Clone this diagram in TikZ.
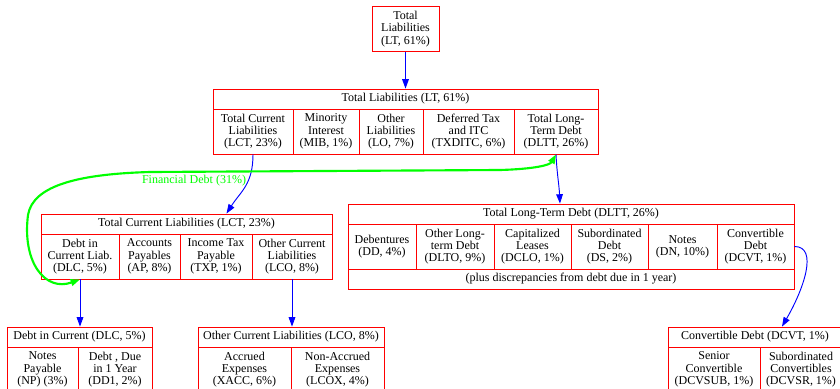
\documentclass[tikz,border=0pt]{standalone}
\usepackage{fontspec}
\setmainfont{Liberation Serif}
\usetikzlibrary{arrows.meta}
\tikzset{
  rec/.style={draw=red, line width=0.65pt, inner sep=0pt, align=center,
    font=\fontsize{9}{9.2}\selectfont},
  tipx/.tip={Triangle[length=7pt,width=5pt]},
  edge/.style={draw=blue, line width=0.7pt, -tipx},
  fin/.style={draw=green, line width=1.6pt, tipx-tipx},
  lbl/.style={text=green, inner sep=0pt, font=\fontsize{9}{9.2}\selectfont}
}
\begin{document}
\begin{tikzpicture}[x=0.75pt,y=-0.75pt]
\useasboundingbox (0,0) rectangle (840,389);
\fill[white] (0,0) rectangle (840,389);
\clip (0,0) rectangle (840,389);
% top node
\node[rec, minimum width=67*0.75pt, minimum height=45*0.75pt] (lt0) at (405.5,29) {Total\\Liabilities\\(LT, 61\%)};
% LT record
\node[rec, minimum width=385*0.75pt, minimum height=20*0.75pt] (lth) at (405.5,99) {Total Liabilities (LT, 61\%)};
\node[rec, minimum width=80*0.75pt, minimum height=45*0.75pt] (lct) at (253,131.5) {Total Current\\Liabilities\\(LCT, 23\%)};
\node[rec, minimum width=66*0.75pt, minimum height=45*0.75pt] (mib) at (326,131.5) {Minority\\Interest\\(MIB, 1\%)};
\node[rec, minimum width=64*0.75pt, minimum height=45*0.75pt] (lo) at (391,131.5) {Other\\Liabilities\\(LO, 7\%)};
\node[rec, minimum width=91*0.75pt, minimum height=45*0.75pt] (txditc) at (468.5,131.5) {Deferred Tax\\and ITC\\(TXDITC, 6\%)};
\node[rec, minimum width=84*0.75pt, minimum height=45*0.75pt] (dltt) at (556,131.5) {Total Long-\\Term Debt\\(DLTT, 26\%)};
% LCT record
\node[rec, minimum width=291*0.75pt, minimum height=20*0.75pt] (lcth) at (186.5,224) {Total Current Liabilities (LCT, 23\%)};
\node[rec, minimum width=78*0.75pt, minimum height=45*0.75pt] (dlc) at (80,256.5) {Debt in\\Current Liab.\\(DLC, 5\%)};
\node[rec, minimum width=61*0.75pt, minimum height=45*0.75pt] (ap) at (149.5,256.5) {Accounts\\Payables\\(AP, 8\%)};
\node[rec, minimum width=72*0.75pt, minimum height=45*0.75pt] (txp) at (216,256.5) {Income Tax\\Payable\\(TXP, 1\%)};
\node[rec, minimum width=80*0.75pt, minimum height=45*0.75pt] (lco) at (292,256.5) {Other Current\\Liabilities\\(LCO, 8\%)};
% DLTT record
\node[rec, minimum width=446*0.75pt, minimum height=20*0.75pt] (dltth) at (571,214) {Total Long-Term Debt (DLTT, 26\%)};
\node[rec, minimum width=68*0.75pt, minimum height=45*0.75pt] (dd) at (382,246.5) {Debentures\\(DD, 4\%)};
\node[rec, minimum width=78*0.75pt, minimum height=45*0.75pt] (dlto) at (455,246.5) {Other Long-\\term Debt\\(DLTO, 9\%)};
\node[rec, minimum width=77*0.75pt, minimum height=45*0.75pt] (dclo) at (532.5,246.5) {Capitalized\\Leases\\(DCLO, 1\%)};
\node[rec, minimum width=77*0.75pt, minimum height=45*0.75pt] (ds) at (609.5,246.5) {Subordinated\\Debt\\(DS, 2\%)};
\node[rec, minimum width=69*0.75pt, minimum height=45*0.75pt] (dn) at (682.5,246.5) {Notes\\(DN, 10\%)};
\node[rec, minimum width=77*0.75pt, minimum height=45*0.75pt] (dcvt) at (755.5,246.5) {Convertible\\Debt\\(DCVT, 1\%)};
\node[rec, minimum width=446*0.75pt, minimum height=20*0.75pt] (dlttf) at (571,279) {(plus discrepancies from debt due in 1 year)};
% DLC record
\node[rec, minimum width=145*0.75pt, minimum height=20*0.75pt] (dlch) at (79.5,337) {Debt in Current (DLC, 5\%)};
\node[rec, minimum width=71*0.75pt, minimum height=45*0.75pt] (np) at (42.5,369.5) {Notes\\Payable\\(NP) (3\%)};
\node[rec, minimum width=74*0.75pt, minimum height=45*0.75pt] (dd1) at (115,369.5) {Debt , Due\\in 1 Year\\(DD1, 2\%)};
% LCO record
\node[rec, minimum width=186*0.75pt, minimum height=20*0.75pt] (lcoh) at (291,337) {Other Current Liabilities (LCO, 8\%)};
\node[rec, minimum width=93*0.75pt, minimum height=45*0.75pt] (xacc) at (244.5,369.5) {Accrued\\Expenses\\(XACC, 6\%)};
\node[rec, minimum width=93*0.75pt, minimum height=45*0.75pt] (lcox) at (337.5,369.5) {Non-Accrued\\Expenses\\(LCOX, 4\%)};
% DCVT record
\node[rec, minimum width=174*0.75pt, minimum height=20*0.75pt] (dcvth) at (755,337) {Convertible Debt (DCVT, 1\%)};
\node[rec, minimum width=92*0.75pt, minimum height=45*0.75pt] (dcvsub) at (714,369.5) {Senior\\Convertible\\(DCVSUB, 1\%)};
\node[rec, minimum width=82*0.75pt, minimum height=45*0.75pt] (dcvsr) at (801,369.5) {Subordinated\\Convertibles\\(DCVSR, 1\%)};
% edges
\draw[edge] (lt0.south) -- (lth.north);
\draw[edge] (lct.south) .. controls +(0,30) and +(14,-22) .. ([xshift=30pt]lcth.north);
\draw[edge] (dltt.south) .. controls +(1,20) and +(-1,-20) .. ([xshift=-8.25pt]dltth.north);
\draw[edge] (dlc.south) -- (dlc.south |- dlch.north);
\draw[edge] (lco.south) -- (lco.south |- lcoh.north);
\draw[edge] (dcvt.east) .. controls +(24,0) and +(22,-38) .. ([xshift=20.25pt]dcvth.north);
% financial debt
\draw[fin] (dlc.south) .. controls (45,292) and (22,262) .. (28,215)
  .. controls (33,185) and (80,174) .. (150,172) -- (500,170)
  .. controls (535,169) and (550,165) .. (dltt.south);
\node[lbl] (findebt) at (194,181) {Financial Debt (31\%)};
\end{tikzpicture}
\end{document}
